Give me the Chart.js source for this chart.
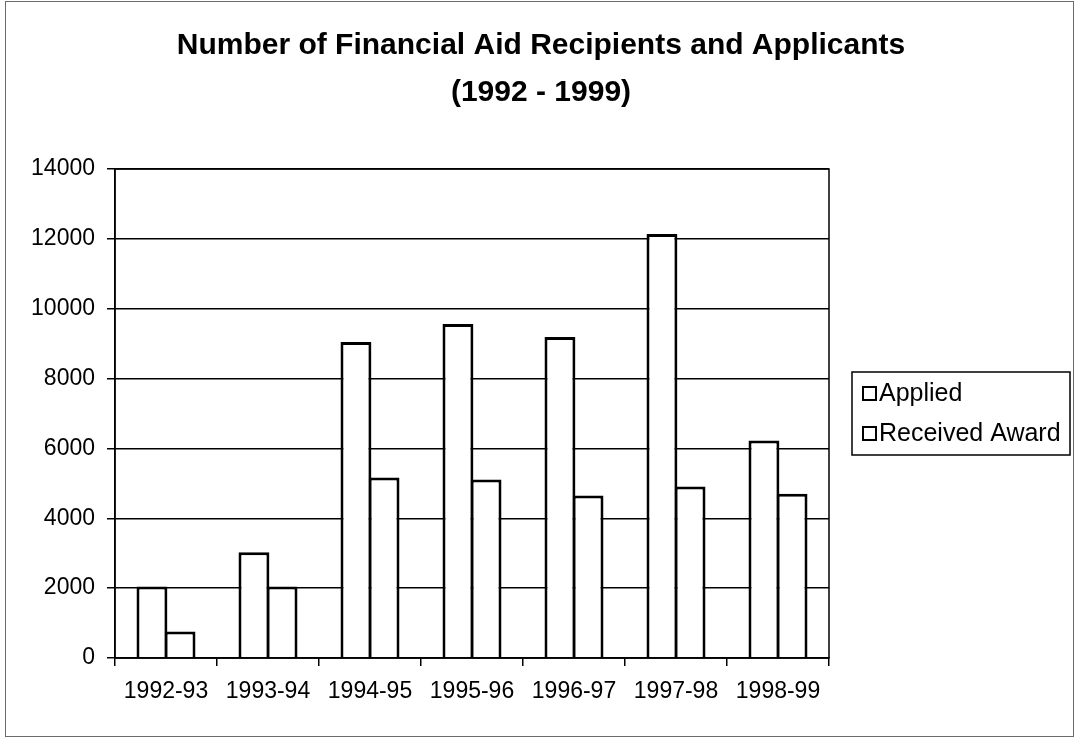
<!DOCTYPE html>
<html>
<head>
<meta charset="utf-8">
<script src="https://cdn.jsdelivr.net/npm/chart.js@4.4.1/dist/chart.umd.min.js"></script>
<style>
  html, body { margin: 0; padding: 0; background: #ffffff; }
  #wrap { width: 1077px; height: 738px; }
</style>
</head>
<body>
<div id="wrap"><canvas id="c" width="1077" height="738"></canvas></div>
<script>
// Academic years and counts of financial aid applicants / award recipients
const years = ['1992-93', '1993-94', '1994-95', '1995-96', '1996-97', '1997-98', '1998-99'];
const applied = [2050, 3030, 9050, 9560, 9190, 12140, 6230];
const receivedAward = [760, 2050, 5170, 5110, 4650, 4910, 4700];
const seriesNames = ['Applied', 'Received Award'];
const titleLines = ['Number of Financial Aid Recipients and Applicants', '(1992 - 1999)'];

const FONT = "'Liberation Sans', Arial, Helvetica, sans-serif";

// Outer frame, centred two-line title, plot-area border and the boxed legend
const decorations = {
  id: 'decorations',
  beforeDraw(chart) {
    const ctx = chart.ctx;
    ctx.save();
    ctx.fillStyle = '#ffffff';
    ctx.fillRect(0, 0, chart.width, chart.height);
    ctx.strokeStyle = '#6a6a6a';
    ctx.lineWidth = 1;
    ctx.strokeRect(5.5, 1.5, 1068, 735);

    ctx.fillStyle = '#000000';
    ctx.font = 'bold 30px ' + FONT;
    ctx.textAlign = 'center';
    ctx.textBaseline = 'middle';
    titleLines.forEach((line, i) => ctx.fillText(line, 541, 46 + i * 47));
    ctx.restore();
  },
  afterDatasetsDraw(chart) {
    const ctx = chart.ctx;
    const a = chart.chartArea;
    ctx.save();
    ctx.strokeStyle = '#000000';
    ctx.lineWidth = 1.5;
    ctx.strokeRect(a.left, a.top, a.right - a.left, a.bottom - a.top);

    // legend box
    const lx = 852, ly = 372, lw = 218, lh = 83;
    ctx.lineWidth = 1.5;
    ctx.strokeRect(lx, ly, lw, lh);
    ctx.font = '25px ' + FONT;
    ctx.textBaseline = 'middle';
    ctx.textAlign = 'left';
    chart.data.datasets.forEach((ds, i) => {
      const cy = ly + 22 + i * 40;
      ctx.fillStyle = ds.backgroundColor;
      ctx.fillRect(863, cy - 7, 13, 13);
      ctx.strokeStyle = ds.borderColor;
      ctx.lineWidth = 2;
      ctx.strokeRect(863, cy - 7, 13, 13);
      ctx.fillStyle = '#000000';
      ctx.fillText(ds.label, 879, cy);
    });
    ctx.restore();
  }
};

new Chart(document.getElementById('c'), {
  type: 'bar',
  data: {
    labels: years,
    datasets: [
      { label: seriesNames[0], data: applied, backgroundColor: '#ffffff', borderColor: '#000000', borderWidth: 3 },
      { label: seriesNames[1], data: receivedAward, backgroundColor: '#ffffff', borderColor: '#000000', borderWidth: 3 }
    ]
  },
  options: {
    responsive: false,
    animation: false,
    devicePixelRatio: 1,
    layout: { padding: { left: 0, right: 248, top: 169, bottom: 0 } },
    // bars of a pair overlap by one border width so they share a single dividing line
    datasets: { bar: { categoryPercentage: 0.551, barPercentage: 1.1 } },
    plugins: {
      legend: { display: false },
      tooltip: { enabled: false },
      title: { display: false }
    },
    scales: {
      x: {
        grid: { display: true, drawOnChartArea: false, drawTicks: true, tickLength: 8, color: '#000000', lineWidth: 1.5, offset: true },
        border: { display: true, color: '#000000', width: 1.5 },
        ticks: { color: '#000000', font: { family: FONT, size: 23 }, padding: 12, maxRotation: 0, autoSkip: false },
        afterFit(scale) { scale.height = 80; }
      },
      y: {
        min: 0,
        max: 14000,
        grid: { color: '#000000', lineWidth: 1.5, drawTicks: true, tickLength: 8 },
        border: { display: true, color: '#000000', width: 1.5 },
        ticks: {
          stepSize: 2000,
          color: '#000000',
          font: { family: FONT, size: 23 },
          padding: 12,
          callback: (v) => String(v)
        },
        afterFit(scale) { scale.width = 115; }
      }
    }
  },
  plugins: [decorations]
});
</script>
</body>
</html>
